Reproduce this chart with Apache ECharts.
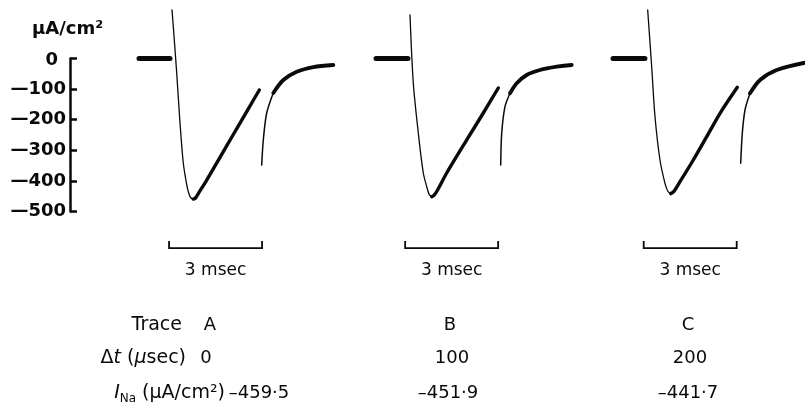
<!DOCTYPE html>
<html>
<head>
<meta charset="utf-8">
<script src="https://cdn.jsdelivr.net/npm/echarts/dist/echarts.min.js"></script>
<style>
  html, body { margin: 0; padding: 0; background: #fff; }
  #chart { width: 805px; height: 407px; }
</style>
</head>
<body>
<div id="chart"></div>
<script>
// Membrane sodium current records (µA/cm²) against time (ms) for three pulse delays.
const traceNames = ['A', 'B', 'C'];
const deltaT = [0, 100, 200];            // µsec
const peakINa = [-459.5, -451.9, -441.7]; // µA/cm²
const yTicks = [0, -100, -200, -300, -400, -500];

// Each record: baseline | falling phase | recovery | tail (early) | tail (late); null splits pieces
const timeA = [0, 1.0, null, 1.065, 1.139, 1.216, 1.323, 1.429, 1.539, 1.613, 1.68, 1.752, null,
  1.752, 1.83, 1.903, 2.184, 2.613, 3.042, 3.474, 3.881, null,
  3.958, 4.010, 4.119, 4.332, null, 4.332, 4.655, 5.087, 5.623, 6.268];
const currentA = [0, 0, null, 158.5, 60.5, -47.4, -210.8, -341.5, -412, -443, -456, -459.5, null,
  -459.5, -455, -443, -397.1, -322.9, -248.4, -173.5, -102.9, null,
  -348.0, -266.3, -178.1, -112.7, null, -112.7, -70.2, -43.1, -27.8, -21.2];

const timeB = [0, 1.03, null, 1.097, 1.203, 1.365, 1.526, 1.645, 1.72, 1.797, null,
  1.797, 1.87, 1.968, 2.281, 2.926, 3.461, 3.945, null,
  4.023, 4.055, 4.161, 4.323, null, 4.323, 4.539, 4.861, 5.290, 5.829, 6.313];
const currentB = [0, 0, null, 142.2, -80.1, -243.5, -374.2, -422, -445, -451.9, null,
  -451.9, -447, -433, -374.2, -266.3, -178.1, -96.4, null,
  -348.0, -244.4, -157.5, -113.7, null, -113.7, -81.0, -53.9, -37.6, -26.8, -21.2];

const timeC = [0, 1.03, null, 1.119, 1.248, 1.355, 1.516, 1.677, 1.77, 1.861, null,
  1.861, 1.95, 2.161, 2.590, 3.023, 3.452, 4.010, null,
  4.119, 4.171, 4.258, 4.419, null, 4.419, 4.742, 5.281, 6.194];
const currentC = [0, 0, null, 158.5, -26.8, -190.2, -331.7, -408, -434, -441.7, null,
  -441.7, -436, -402.6, -331.7, -255.6, -179.1, -94.1, null,
  -342.5, -244.4, -168.3, -113.7, null, -113.7, -70.3, -37.6, -13.7];

const scaleBarStart = [0.97, 0.94, 0.99]; // ms
const scaleBarLength = 3;                  // ms

const traces = [[timeA, currentA], [timeB, currentB], [timeC, currentC]];

// Styling
const INK = '#0a0a0a';
const segmentWidths = [5, 1.3, 3.4, 1.5, 3.8];
const gridLefts = [139, 376, 613];
const PX_PER_MS = 31;
const CHART_W = 805;
const TOP = 58.5, HEIGHT = 153;
const FONT = 'DejaVu Sans';

function segments(t, v) {
  const out = [];
  let cur = [];
  for (let k = 0; k < t.length; k++) {
    if (t[k] === null || v[k] === null) {
      if (cur.length) out.push(cur);
      cur = [];
    } else {
      cur.push([t[k], v[k]]);
    }
  }
  if (cur.length) out.push(cur);
  return out;
}

const grids = [{ left: 70, top: TOP, width: 1, height: HEIGHT }];
const xAxes = [{ gridIndex: 0, type: 'value', show: false }];
const yAxes = [{
  gridIndex: 0, type: 'value', min: yTicks[yTicks.length - 1], max: yTicks[0], interval: 100,
  axisLine: { show: true, lineStyle: { color: INK, width: 2.5 } },
  axisTick: { show: true, inside: true, length: 7, lineStyle: { color: INK, width: 2.5 } },
  splitLine: { show: false },
  axisLabel: {
    margin: 4, color: INK, fontFamily: FONT, fontWeight: 'bold', fontSize: 18,
    formatter: v => v === 0 ? '{z|0}' : (v < 0 ? '\u2014' + Math.abs(v) : String(v)),
    rich: { z: { fontFamily: FONT, fontWeight: 'bold', fontSize: 18, color: INK, padding: [4, 8, 0, 0] } }
  }
}];
const series = [];

traces.forEach(([t, v], i) => {
  // keep the per-record time scale identical while staying inside the canvas
  const tMax = Math.min(6.6, (CHART_W - gridLefts[i]) / PX_PER_MS);
  grids.push({ left: gridLefts[i], top: TOP, width: tMax * PX_PER_MS, height: HEIGHT });
  xAxes.push({ gridIndex: i + 1, type: 'value', min: 0, max: tMax, show: false });
  yAxes.push({ gridIndex: i + 1, type: 'value', min: -500, max: 0, show: false });
  segments(t, v).forEach((seg, k) => {
    series.push({
      type: 'line', xAxisIndex: i + 1, yAxisIndex: i + 1, data: seg,
      showSymbol: false, smooth: 0.3, clip: false, silent: true,
      lineStyle: { color: INK, width: segmentWidths[k], cap: 'round', join: 'round' }
    });
  });
  // 3 msec scale bar under each record
  const s = scaleBarStart[i];
  series.push({
    type: 'line', xAxisIndex: i + 1, yAxisIndex: i + 1, clip: false, silent: true, showSymbol: false,
    data: [[s, -596], [s, -620], [s + scaleBarLength, -620], [s + scaleBarLength, -596]],
    lineStyle: { color: INK, width: 1.8, cap: 'butt', join: 'miter' }
  });
});

const chart = echarts.init(document.getElementById('chart'), null, { renderer: 'canvas' });
chart.setOption({
  animation: false,
  backgroundColor: '#fff',
  grid: grids, xAxis: xAxes, yAxis: yAxes, series: series
});

// Labels and table
const fmtPeak = v => (v < 0 ? '\u2013' : '') + Math.abs(v).toFixed(1).replace('.', '\u00b7');
const txt = (x, y, text, align, extra) => ({
  type: 'text', x: x, y: y,
  style: Object.assign({
    text: text, fill: INK, font: '18px "' + FONT + '"', align: align || 'center', verticalAlign: 'middle'
  }, extra || {})
});

const richBase = {
  n: { fontFamily: FONT, fontSize: 19, lineHeight: 24, fill: INK },
  i: { fontFamily: FONT, fontSize: 19, fontStyle: 'italic', lineHeight: 24, fill: INK },
  sub: { fontFamily: FONT, fontSize: 12, lineHeight: 24, verticalAlign: 'bottom', fill: INK }
};

const graphics = [
  txt(32, 29, '\u03bcA/cm\u00b2', 'left', { font: 'bold 18px "' + FONT + '"' }),
  txt(182, 325, 'Trace', 'right', { font: '19px "' + FONT + '"' }),
  { type: 'text', x: 186, y: 358,
    style: { text: '{n|\u0394}{i|t}{n| (}{i|\u03bc}{n|sec)}', rich: richBase, align: 'right', verticalAlign: 'middle' } },
  { type: 'text', x: 225, y: 393,
    style: { text: '{i|I}{sub|Na}{n| (\u03bcA/cm\u00b2)}', rich: richBase, align: 'right', verticalAlign: 'middle' } }
];

const colName = [210, 450, 688];
const colDelta = [206, 452, 690];
const colPeak = [259, 448, 688];
traceNames.forEach((name, i) => {
  graphics.push(txt(colName[i], 325, name));
  graphics.push(txt(colDelta[i], 358, String(deltaT[i])));
  graphics.push(txt(colPeak[i], 393, fmtPeak(peakINa[i])));
  const mid = chart.convertToPixel({ gridIndex: i + 1 }, [scaleBarStart[i] + scaleBarLength / 2, -620]);
  graphics.push(txt(mid[0], mid[1] + 22, '3 msec', 'center', { font: '17px "' + FONT + '"' }));
});

chart.setOption({ graphic: graphics });
</script>
</body>
</html>
